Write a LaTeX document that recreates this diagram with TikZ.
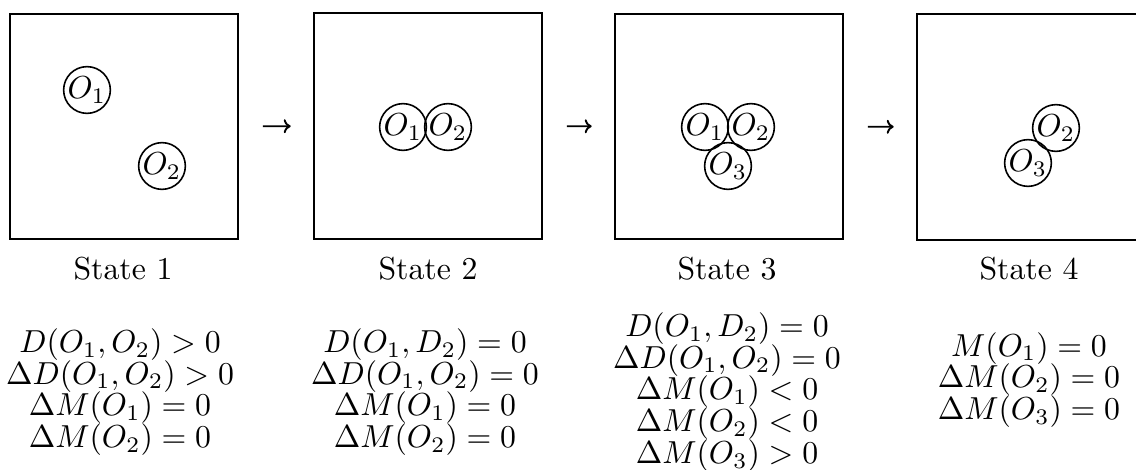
\documentclass[tikz,border=0pt]{standalone}
\usepackage{amsmath,amssymb}
\usepackage{tikz}
\usetikzlibrary{positioning, arrows.meta}

\begin{document}
\begin{tikzpicture}[
      x=0.3145pt, y=-0.3145pt,
      frame/.style={draw=black, line width=0.65pt, minimum width=71.7pt,
                    minimum height=70.8pt, inner sep=0pt},
      obj/.style={circle, draw=black, line width=0.5pt, inner sep=0pt, minimum size=14pt},
      title/.style={font=\normalsize},
      conds/.style={align=center, inner sep=0pt, font=\fontsize{10}{10}\selectfont},
      go/.style={-{To[length=2.2pt, width=4.4pt]}, line width=0.6pt,
                 shorten <=7.5pt, shorten >=7pt}]
    \clip (0,0) rectangle (1136,470);
    \node[frame] (s1) at (124,126.5)  {};
    \node[frame] (s2) at (428,126)    {};
    \node[frame] (s3) at (729,126.5)  {};
    \node[frame] (s4) at (1031,127)   {};
    \foreach \i/\j in {1/2,2/3,3/4}{
      \draw[go] (s\i) -- (s\j);
    }
    \node[obj] (a1) at (87,90)    {$O_1$};
    \node[obj] (a2) at (162,166)  {$O_2$};
    \node[obj] (b1) at (403,127)  {$O_1$};
    \node[obj] (b2) at (448,127)  {$O_2$};
    \node[obj] (c1) at (705,127)  {$O_1$};
    \node[obj] (c2) at (751,127)  {$O_2$};
    \node[obj] (c3) at (728,166)  {$O_3$};
    \node[obj] (d2) at (1056,128) {$O_2$};
    \node[obj] (d3) at (1028,163) {$O_3$};
    \foreach \i/\x in {1/123,2/428,3/727,4/1029}{
      \node[title] (t\i) at (\x,269) {State \i};
    }
    \node[conds] (k1) at (120,392) {$D(O_1,O_2)>0$\\ $\Delta D(O_1,O_2)>0$\\
      $\Delta M(O_1)=0$\\ $\Delta M(O_2)=0$};
    \node[conds] (k2) at (425,392) {$D(O_1,D_2)=0$\\ $\Delta D(O_1,O_2)=0$\\
      $\Delta M(O_1)=0$\\ $\Delta M(O_2)=0$};
    \node[conds] (k3) at (727,392) {$D(O_1,D_2)=0$\\ $\Delta D(O_1,O_2)=0$\\
      $\Delta M(O_1)<0$\\ $\Delta M(O_2)<0$\\ $\Delta M(O_3)>0$};
    \node[conds] (k4) at (1029,380) {$M(O_1)=0$\\ $\Delta M(O_2)=0$\\
      $\Delta M(O_3)=0$};
  \end{tikzpicture}
\end{document}
